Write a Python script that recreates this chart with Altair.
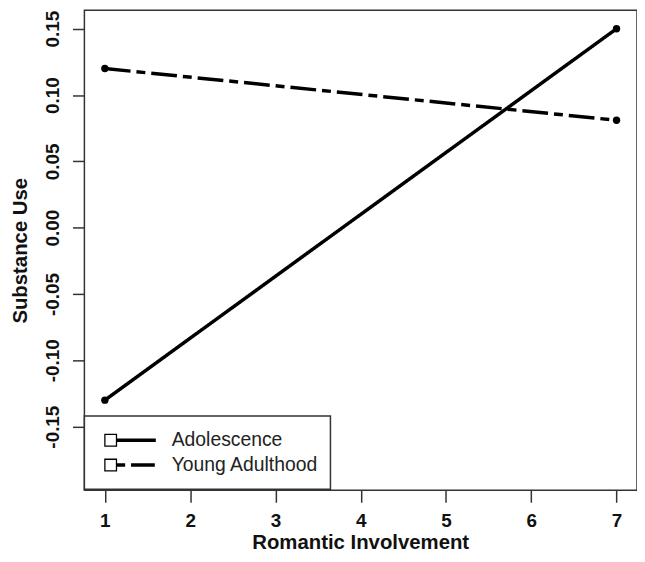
import altair as alt
import pandas as pd

# ---- data ----
x_levels = [1, 7]
series = ["Adolescence", "Young Adulthood"]
adolescence = [-0.13, 0.15]
young_adulthood = [0.12, 0.081]
x_ticks = [1, 2, 3, 4, 5, 6, 7]
y_ticks = [-0.15, -0.10, -0.05, 0.00, 0.05, 0.10, 0.15]
dashes = {"Adolescence": [1, 0], "Young Adulthood": [26, 6, 9, 6]}

rows = []
for name, vals in zip(series, [adolescence, young_adulthood]):
    for xv, yv in zip(x_levels, vals):
        rows.append({"x": xv, "y": yv, "series": name})
df = pd.DataFrame(rows)

FONT = "Liberation Sans"

# legend symbol paths (open square + solid / dashed line), unit box -1..1
sym_solid = ("M-1,-0.25H-0.5V0.25H-1Z M-0.95,-0.2V0.2H-0.55V-0.2Z "
             "M-0.5,-0.065H1V0.065H-0.5Z")
sym_dash = ("M-1,-0.25H-0.5V0.25H-1Z M-0.95,-0.2V0.2H-0.55V-0.2Z "
            "M-0.5,-0.065H-0.19V0.065H-0.5Z M0.04,-0.065H0.96V0.065H0.04Z")

common = dict(tickSize=12, tickWidth=1.5, tickColor="#333", domain=False, grid=False,
              labelFont=FONT, labelFontSize=19, labelFontWeight="bold", labelColor="#111",
              titleFont=FONT, titleFontSize=20.5, titleFontWeight="bold", titleColor="#111")

x_enc = alt.X("x:Q",
              scale=alt.Scale(domain=[0.76, 7.24], nice=False, zero=False),
              axis=alt.Axis(values=x_ticks, format="d", title="Romantic Involvement",
                            labelPadding=9,
                            titleX=278, titleY=59, titleBaseline="alphabetic",
                            titleAlign="center", **common))
y_enc = alt.Y("y:Q",
              scale=alt.Scale(domain=[-0.198, 0.164], nice=False, zero=False),
              axis=alt.Axis(values=y_ticks, title="Substance Use",
                            labelExpr="(datum.value < -0.0001 ? '-' : '') + format(abs(datum.value), '.2f')",
                            labelAngle=270, labelAlign="center", labelBaseline="bottom",
                            labelPadding=10,
                            titleX=-58, titleY=242, titleAngle=270,
                            titleBaseline="alphabetic", titleAlign="center", **common))

line_layers = []
for i, name in enumerate(series):
    enc_x = x_enc if i == 0 else alt.X("x:Q")
    enc_y = y_enc if i == 0 else alt.Y("y:Q")
    line_layers.append(
        alt.Chart().transform_filter(alt.datum.series == name)
        .mark_line(color="black", strokeWidth=3.5, strokeDash=dashes[name])
        .encode(x=enc_x, y=enc_y)
    )

points = alt.Chart().mark_point(filled=True, color="black", size=55, opacity=1).encode(
    x="x:Q", y="y:Q", detail="series:N"
)

legend_layer = alt.Chart().transform_filter("false").mark_point(
    filled=True, color="black", size=2704, strokeWidth=0
).encode(
    x="x:Q", y="y:Q",
    shape=alt.Shape("series:N",
                    scale=alt.Scale(domain=series, range=[sym_solid, sym_dash]),
                    legend=alt.Legend(title=None, orient="none", legendX=0, legendY=409,
                                      padding=12, symbolOffset=8, labelOffset=16,
                                      clipHeight=25, rowPadding=0, symbolSize=2704,
                                      symbolFillColor="black", symbolStrokeWidth=0,
                                      symbolOpacity=1, strokeColor="#333",
                                      fillColor="white", labelFont=FONT,
                                      labelFontSize=19.5, labelColor="#222")),
)

chart = alt.layer(*line_layers, points, legend_layer, data=df).properties(
    width=557, height=484,
    padding={"left": 77, "top": 0, "right": 0, "bottom": 62},
    autosize=alt.AutoSizeParams(type="none"),
).configure(font=FONT).configure_view(
    stroke="#333", strokeWidth=1.5
).configure_legend(
    strokeWidth=1.5
)

chart.save("out.html", embed_options={"renderer": "svg", "actions": False})
